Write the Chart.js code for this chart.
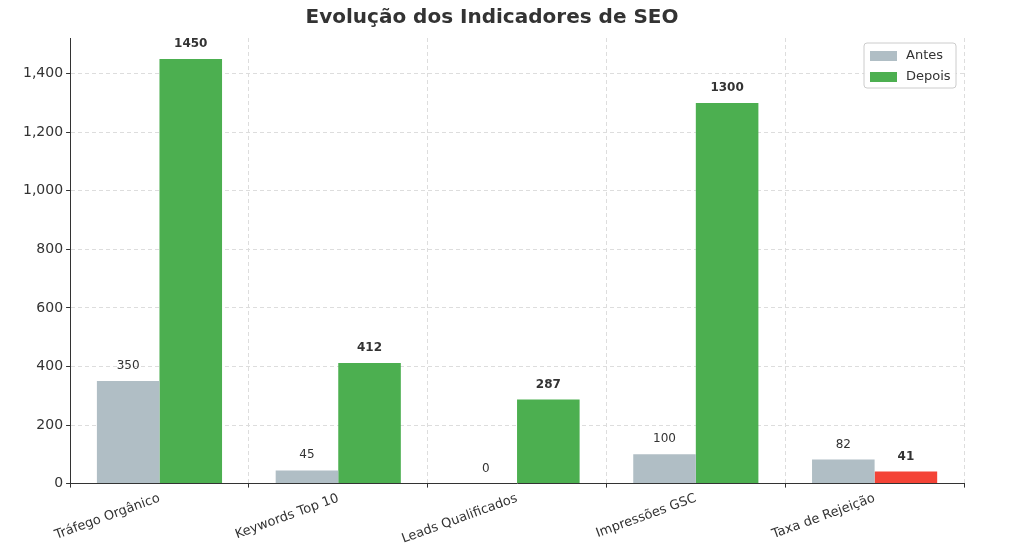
<!DOCTYPE html>
<html><head><meta charset="utf-8">
<script src="https://cdn.jsdelivr.net/npm/chart.js@4"></script>
<style>html,body{margin:0;background:#fff}</style>
</head><body><canvas id="c" width="1024" height="550"></canvas>
<script>
const categories=["Tráfego Orgânico","Keywords Top 10","Leads Qualificados","Impressões GSC","Taxa de Rejeição"];
const antes=[350,45,0,100,82];
const depois=[1450,412,287,1300,41];
const depoisColors=["#4caf50","#4caf50","#4caf50","#4caf50","#f44336"];
const yTicks=[0,200,400,600,800,1000,1200,1400];
const F="DejaVu Sans";
const labelsPlugin={id:'lbl',afterDatasetsDraw(ch){
 const ctx=ch.ctx;ctx.save();ctx.textAlign='center';ctx.fillStyle='#333';
 ch.data.datasets.forEach((ds,i)=>{ch.getDatasetMeta(i).data.forEach((b,j)=>{
  ctx.font=(i===1?'bold ':'')+'12px '+F;ctx.fillText(ds.data[j],b.x,b.y-12);});});
 const a=ch.chartArea;const x=a.right-100,y=a.top+5;
 ctx.fillStyle='rgba(255,255,255,0.9)';ctx.strokeStyle='#ccc';ctx.lineWidth=1;
 ctx.beginPath();ctx.roundRect(x,y,92,45,3);ctx.fill();ctx.stroke();
 ctx.textAlign='left';ctx.textBaseline='middle';ctx.font='13px '+F;
 [["Antes","#b0bec5"],["Depois","#4caf50"]].forEach((l,k)=>{
  ctx.fillStyle=l[1];ctx.fillRect(x+6,y+8+k*21,27,10);ctx.fillStyle='#333';ctx.fillText(l[0],x+42,y+13+k*21);});
 ctx.restore();}};
new Chart(document.getElementById('c'),{type:'bar',
 data:{labels:categories,datasets:[
  {label:'Antes',data:antes,backgroundColor:'#b0bec5'},
  {label:'Depois',data:depois,backgroundColor:depoisColors}]},
 options:{responsive:false,animation:false,devicePixelRatio:1,
  layout:{padding:{left:20,right:60,top:0,bottom:0}},
  datasets:{bar:{categoryPercentage:0.7,barPercentage:1}},
  plugins:{legend:{display:false},tooltip:{enabled:false},
   title:{display:true,text:'Evolução dos Indicadores de SEO',color:'#333',font:{family:F,size:20,weight:'bold'},padding:{top:6,bottom:8}}},
  scales:{
   x:{grid:{color:'#ddd',tickColor:'#333',tickLength:4},border:{display:true,color:'#333',dash:[4,3]},
    ticks:{color:'#333',font:{family:F,size:13},maxRotation:20,minRotation:20}},
   y:{min:0,max:1522,afterBuildTicks(ax){ax.ticks=yTicks.map(v=>({value:v}));},
    grid:{color:'#ddd',tickColor:'#333',tickLength:4},border:{color:'#333',dash:[4,3]},
    ticks:{color:'#333',font:{family:F,size:14}}}}},
 plugins:[labelsPlugin]});
</script></body></html>
